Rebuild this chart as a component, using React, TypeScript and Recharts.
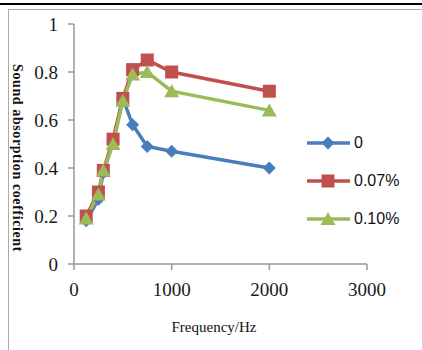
import { LineChart, Line, XAxis, YAxis } from 'recharts'

// frequencies (Hz) and absorption coefficients
const frequencies = [125, 250, 300, 400, 500, 600, 750, 1000, 2000]
const plain = [0.18, 0.27, 0.38, 0.51, 0.69, 0.58, 0.49, 0.47, 0.4]
const fiber007 = [0.2, 0.3, 0.39, 0.52, 0.69, 0.81, 0.85, 0.8, 0.72]
const fiber010 = [0.19, 0.29, 0.39, 0.5, 0.68, 0.79, 0.8, 0.72, 0.64]

const seriesNames = ['0', '0.07%', '0.10%']
const xTicks = [0, 1000, 2000, 3000]
const yTicks = [0, 0.2, 0.4, 0.6, 0.8, 1]

const BLUE = '#4a7ebb'
const RED = '#c0504d'
const GREEN = '#9bbb59'

const data = frequencies.map((f, i) => ({
  freq: f,
  a: plain[i],
  b: fiber007[i],
  c: fiber010[i],
}))

function Diamond({ cx, cy, fill }: any) {
  if (cx == null || cy == null) return null
  const r = 6.5
  return <path d={`M${cx},${cy - r}L${cx + r},${cy}L${cx},${cy + r}L${cx - r},${cy}Z`} fill={fill} />
}

function Square({ cx, cy, fill }: any) {
  if (cx == null || cy == null) return null
  const s = 6.5
  return <rect x={cx - s} y={cy - s} width={s * 2} height={s * 2} fill={fill} />
}

function Triangle({ cx, cy, fill }: any) {
  if (cx == null || cy == null) return null
  const w = 7.5
  return <path d={`M${cx},${cy - 7}L${cx + w},${cy + 6}L${cx - w},${cy + 6}Z`} fill={fill} />
}

const tickStyle = { fontFamily: '"Liberation Serif", serif', fontSize: 19, fill: '#1a1a1a' }

function LegendItem({ color, label, marker }: { color: string; label: string; marker: string }) {
  return (
    <div style={{ display: 'flex', alignItems: 'center', height: 38 }}>
      <svg width={46} height={16}>
        <line x1={1} y1={8} x2={44} y2={8} stroke={color} strokeWidth={3.5} />
        {marker === 'd' && <Diamond cx={22} cy={8} fill={color} />}
        {marker === 's' && <Square cx={22} cy={8} fill={color} />}
        {marker === 't' && <Triangle cx={22} cy={8} fill={color} />}
      </svg>
      <span style={{ marginLeft: 2, fontFamily: '"Liberation Sans", sans-serif', fontSize: 16, color: '#111' }}>
        {label}
      </span>
    </div>
  )
}

export default function App() {
  return (
    <div style={{ position: 'absolute', left: 0, top: 0, width: 422, height: 350, background: '#fff', overflow: 'hidden' }}>
      <div style={{ position: 'absolute', left: 0, top: 3, width: 422, height: 2, background: '#000' }} />
      <div style={{ position: 'absolute', left: 8, top: 9, width: 430, height: 360, border: '1px solid #aaa', borderRightWidth: 0, borderBottomWidth: 0 }} />
      <div style={{ position: 'absolute', left: 0, top: 0 }}>
        <LineChart width={422} height={350} data={data} margin={{ top: 24, right: 55, bottom: 56, left: 34 }}>
          <XAxis
            dataKey="freq"
            type="number"
            domain={[0, 3000]}
            ticks={xTicks}
            tick={tickStyle}
            tickSize={6}
            tickMargin={13}
            stroke="#999"
            strokeWidth={1.5}
          />
          <YAxis
            type="number"
            domain={[0, 1]}
            ticks={yTicks}
            tick={tickStyle}
            tickSize={6}
            tickMargin={10}
            width={40}
            stroke="#999"
            strokeWidth={1.5}
          />
          <Line dataKey="a" name={seriesNames[0]} stroke={BLUE} strokeWidth={3.5} dot={<Diamond fill={BLUE} />} isAnimationActive={false} />
          <Line dataKey="b" name={seriesNames[1]} stroke={RED} strokeWidth={3.5} dot={<Square fill={RED} />} isAnimationActive={false} />
          <Line dataKey="c" name={seriesNames[2]} stroke={GREEN} strokeWidth={3.5} dot={<Triangle fill={GREEN} />} isAnimationActive={false} />
        </LineChart>
      </div>
      <div
        style={{
          position: 'absolute',
          left: 17,
          top: 158,
          transform: 'translate(-50%, -50%) rotate(90deg)',
          whiteSpace: 'nowrap',
          fontFamily: '"Liberation Serif", serif',
          fontWeight: 'bold',
          fontSize: 14,
          letterSpacing: 0.6,
          color: '#111',
        }}
      >
        Sound absorption coefficient
      </div>
      <div
        style={{
          position: 'absolute',
          left: 214,
          top: 327,
          transform: 'translate(-50%, -50%)',
          whiteSpace: 'nowrap',
          fontFamily: '"Liberation Serif", serif',
          fontSize: 15,
          color: '#111',
        }}
      >
        Frequency/Hz
      </div>
      <div style={{ position: 'absolute', left: 306, top: 124 }}>
        <LegendItem color={BLUE} label={seriesNames[0]} marker="d" />
        <LegendItem color={RED} label={seriesNames[1]} marker="s" />
        <LegendItem color={GREEN} label={seriesNames[2]} marker="t" />
      </div>
    </div>
  )
}
